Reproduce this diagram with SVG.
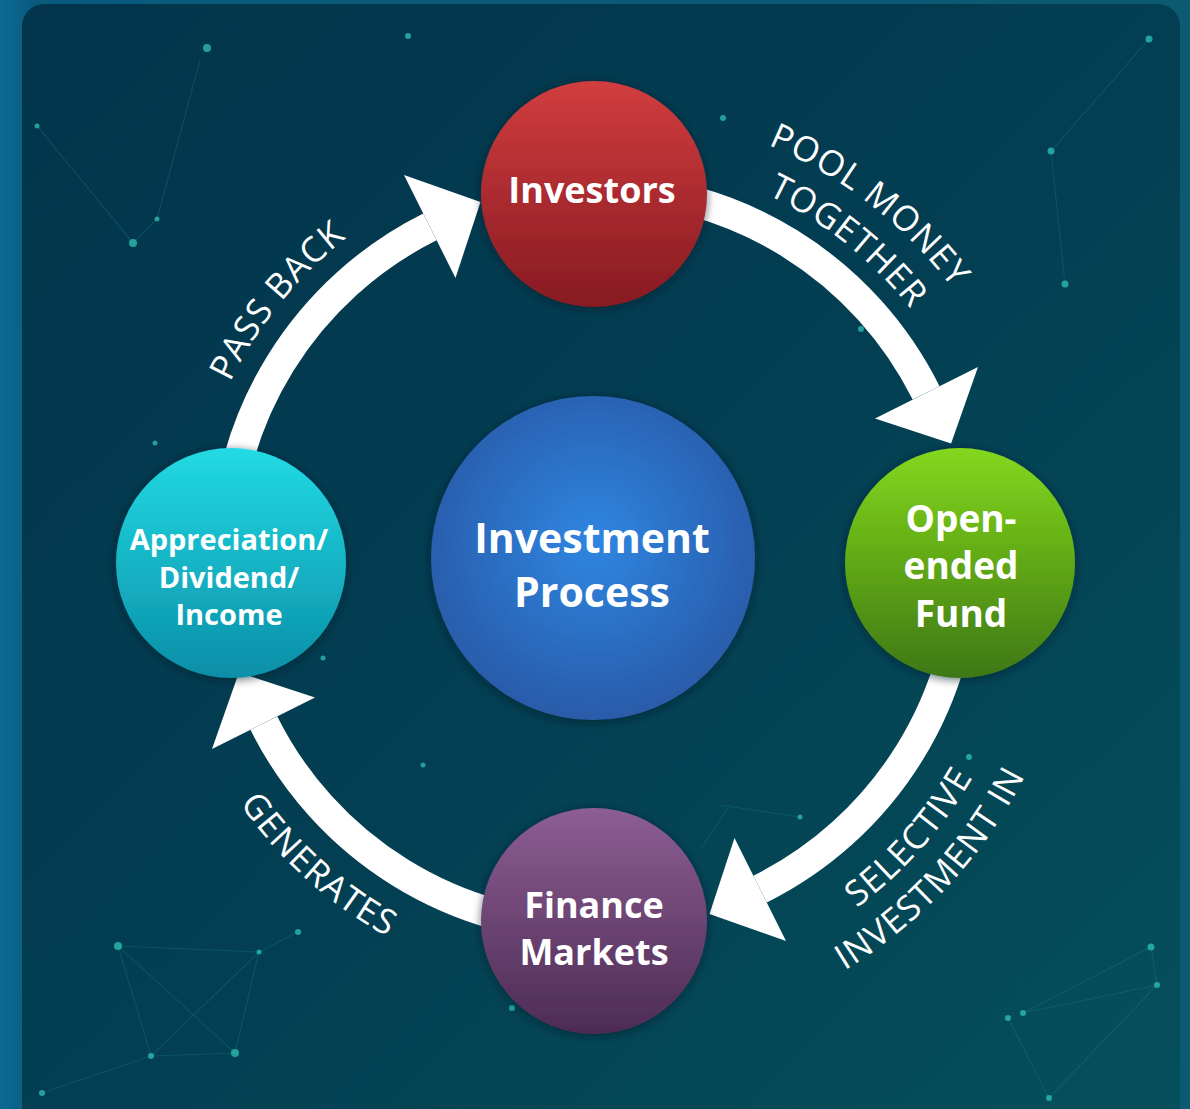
<svg xmlns="http://www.w3.org/2000/svg" xmlns:xlink="http://www.w3.org/1999/xlink" width="1190" height="1109" viewBox="0 0 1190 1109">
  <defs>
    <linearGradient id="frame" x1="0" y1="0" x2="1" y2="0">
      <stop offset="0" stop-color="#0d6a93"/>
      <stop offset="0.03" stop-color="#0a5a7e"/>
      <stop offset="1" stop-color="#0b5a72"/>
    </linearGradient>
    <linearGradient id="panel" x1="0" y1="0" x2="1" y2="1">
      <stop offset="0" stop-color="#02354b"/>
      <stop offset="0.5" stop-color="#033e52"/>
      <stop offset="1" stop-color="#05505b"/>
    </linearGradient>
    <linearGradient id="gRed" x1="0" y1="0" x2="0" y2="1">
      <stop offset="0" stop-color="#d23d3e"/>
      <stop offset="1" stop-color="#861a22"/>
    </linearGradient>
    <linearGradient id="gGreen" x1="0" y1="0" x2="0" y2="1">
      <stop offset="0" stop-color="#83d81c"/>
      <stop offset="1" stop-color="#3e7813"/>
    </linearGradient>
    <linearGradient id="gPurple" x1="0" y1="0" x2="0" y2="1">
      <stop offset="0" stop-color="#8c5e92"/>
      <stop offset="1" stop-color="#4d2b55"/>
    </linearGradient>
    <linearGradient id="gCyan" x1="0" y1="0" x2="0" y2="1">
      <stop offset="0" stop-color="#22dbe4"/>
      <stop offset="1" stop-color="#0a8ea7"/>
    </linearGradient>
    <radialGradient id="gBlue" cx="0.5" cy="0.45" r="0.55">
      <stop offset="0" stop-color="#2e86e2"/>
      <stop offset="1" stop-color="#2a5ba9"/>
    </radialGradient>
    <filter id="soft" x="-20%" y="-20%" width="140%" height="140%">
      <feGaussianBlur in="SourceAlpha" stdDeviation="4"/>
      <feOffset dx="0" dy="2" result="b"/>
      <feFlood flood-color="#001a24" flood-opacity="0.6"/>
      <feComposite in2="b" operator="in"/>
      <feMerge><feMergeNode/><feMergeNode in="SourceGraphic"/></feMerge>
    </filter>
    <g id="arrowShape">
      <path d="M595,188 A370,370 0 0 1 926.1,392.9" fill="none" stroke="#ffffff" stroke-width="30"/>
      <polygon points="978,367 951.1,443.5 875,418.5" fill="#ffffff"/>
    </g>
    <path id="pPass" d="M190.1,565.1 A405,405 0 0 1 517.7,160.4"/>
    <path id="pPool" d="M577.9,110.3 A448,448 0 0 1 1032.9,464.8"/>
    <path id="pTog" d="M585.2,156.1 A402,402 0 0 1 989,478.3"/>
    <path id="pGen" d="M167.2,618.1 A432,432 0 0 0 579.9,989.7"/>
    <path id="pSel" d="M658.8,990.3 A437,437 0 0 0 1031.8,570.2"/>
    <path id="pInv" d="M655.4,1036.2 A482,482 0 0 0 1076.4,581.5"/>
  </defs>
  <style>
    .node text { font-family: "Open Sans", "Noto Sans", "Liberation Sans", sans-serif; font-weight: 700; fill: #ffffff; text-anchor: middle; }
    .lbl { font-family: "Open Sans", "Noto Sans", "Liberation Sans", sans-serif; font-weight: 500; font-size: 35px; letter-spacing: 1px; fill: #ffffff; }
    .dot { fill: #2fc3b5; opacity: 0.75; }
    .net { stroke: #1f8f90; stroke-width: 1.2; opacity: 0.25; fill: none; }
  </style>

  <!-- background -->
  <rect x="0" y="0" width="1190" height="1109" fill="url(#frame)"/>
  <rect x="22" y="4" width="1158" height="1130" rx="22" fill="url(#panel)"/>

  <!-- decorative constellation -->
  <g id="decor">
    <path class="net" d="M37,126 L133,243 M200,60 L157,219 M157,219 L133,243 M1149,39 L1051,151 L1065,284 M118,946 L259,952 L298,932 M118,946 L151,1056 L235,1053 L259,952 M118,946 L235,1053 M151,1056 L259,952 M42,1093 L151,1056 M1023,1013 L1151,947 L1157,985 L1023,1013 M1008,1018 L1049,1098 L1157,985 M720,805 L800,817 M700,850 L730,805"/>
    <circle class="dot" cx="207" cy="48" r="4"/>
    <circle class="dot" cx="408" cy="36" r="3"/>
    <circle class="dot" cx="37" cy="126" r="2.5"/>
    <circle class="dot" cx="133" cy="243" r="4"/>
    <circle class="dot" cx="157" cy="219" r="2.5"/>
    <circle class="dot" cx="1149" cy="39" r="3.5"/>
    <circle class="dot" cx="1051" cy="151" r="3.5"/>
    <circle class="dot" cx="1065" cy="284" r="3.5"/>
    <circle class="dot" cx="723" cy="118" r="3"/>
    <circle class="dot" cx="861" cy="329" r="3"/>
    <circle class="dot" cx="155" cy="443" r="2.5"/>
    <circle class="dot" cx="118" cy="946" r="4"/>
    <circle class="dot" cx="298" cy="932" r="3"/>
    <circle class="dot" cx="259" cy="952" r="2.5"/>
    <circle class="dot" cx="151" cy="1056" r="3"/>
    <circle class="dot" cx="235" cy="1053" r="4"/>
    <circle class="dot" cx="42" cy="1093" r="3"/>
    <circle class="dot" cx="323" cy="658" r="2.5"/>
    <circle class="dot" cx="423" cy="765" r="2.5"/>
    <circle class="dot" cx="969" cy="757" r="3"/>
    <circle class="dot" cx="800" cy="817" r="2.5"/>
    <circle class="dot" cx="512" cy="1008" r="3"/>
    <circle class="dot" cx="1151" cy="947" r="3.5"/>
    <circle class="dot" cx="1157" cy="985" r="3"/>
    <circle class="dot" cx="1008" cy="1018" r="3"/>
    <circle class="dot" cx="1023" cy="1013" r="3"/>
    <circle class="dot" cx="1049" cy="1098" r="3"/>
  </g>

  <!-- connectors -->
  <g id="connectors">
    <use xlink:href="#arrowShape" href="#arrowShape"/>
    <use xlink:href="#arrowShape" href="#arrowShape" transform="rotate(90 595 558)"/>
    <use xlink:href="#arrowShape" href="#arrowShape" transform="rotate(180 595 558)"/>
    <use xlink:href="#arrowShape" href="#arrowShape" transform="rotate(270 595 558)"/>
    <text class="lbl"><textPath xlink:href="#pPool" href="#pPool" startOffset="50%" text-anchor="middle">POOL MONEY</textPath></text>
    <text class="lbl"><textPath xlink:href="#pTog" href="#pTog" startOffset="50%" text-anchor="middle">TOGETHER</textPath></text>
    <text class="lbl"><textPath xlink:href="#pSel" href="#pSel" startOffset="50%" text-anchor="middle">SELECTIVE</textPath></text>
    <text class="lbl"><textPath xlink:href="#pInv" href="#pInv" startOffset="50%" text-anchor="middle">INVESTMENT IN</textPath></text>
    <text class="lbl"><textPath xlink:href="#pGen" href="#pGen" startOffset="50%" text-anchor="middle">GENERATES</textPath></text>
    <text class="lbl"><textPath xlink:href="#pPass" href="#pPass" startOffset="50%" text-anchor="middle">PASS BACK</textPath></text>
  </g>

  <!-- nodes -->
  <g id="node-center" class="node">
    <circle cx="593" cy="558" r="162" fill="url(#gBlue)" filter="url(#soft)"/>
    <text x="592" y="553" font-size="41">Investment</text>
    <text x="592" y="607" font-size="41">Process</text>
  </g>
  <g id="node-investors" class="node">
    <circle cx="594" cy="194" r="113" fill="url(#gRed)" filter="url(#soft)"/>
    <text x="592" y="203" font-size="36">Investors</text>
  </g>
  <g id="node-fund" class="node">
    <circle cx="960" cy="563" r="115" fill="url(#gGreen)" filter="url(#soft)"/>
    <text x="961" y="532" font-size="37">Open-</text>
    <text x="961" y="579" font-size="37">ended</text>
    <text x="961" y="627" font-size="37">Fund</text>
  </g>
  <g id="node-markets" class="node">
    <circle cx="594" cy="921" r="113" fill="url(#gPurple)" filter="url(#soft)"/>
    <text x="594" y="918" font-size="36">Finance</text>
    <text x="594" y="965" font-size="36">Markets</text>
  </g>
  <g id="node-income" class="node">
    <circle cx="231" cy="563" r="115" fill="url(#gCyan)" filter="url(#soft)"/>
    <text x="229" y="550" font-size="29">Appreciation/</text>
    <text x="229" y="588" font-size="29">Dividend/</text>
    <text x="229" y="625" font-size="29">Income</text>
  </g>
</svg>
